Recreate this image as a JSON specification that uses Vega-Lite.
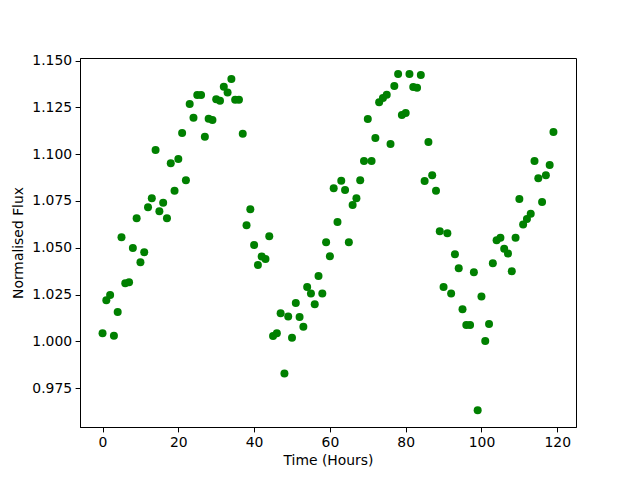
{
  "$schema": "https://vega.github.io/schema/vega-lite/v6.json",
  "width": 496,
  "height": 369,
  "autosize": {"type": "none"},
  "padding": {"left": 80, "top": 58, "right": 64, "bottom": 53},
  "background": "white",
  "config": {
    "view": {"stroke": "black", "strokeWidth": 1},
    "font": "DejaVu Sans",
    "axis": {
      "grid": false,
      "domainColor": "black",
      "domainWidth": 1,
      "tickColor": "black",
      "tickSize": 4.9,
      "tickWidth": 1,
      "labelColor": "black",
      "labelFont": "DejaVu Sans",
      "labelFontSize": 13.9,
      "labelPadding": 3.5,
      "titleFont": "DejaVu Sans",
      "titleFontSize": 13.9,
      "titleFontWeight": "normal",
      "titleColor": "black"
    }
  },
  "data": {
    "values": [
      {"time": 0, "flux": 1.0043}, {"time": 1, "flux": 1.0219}, {"time": 2, "flux": 1.0248}, {"time": 3, "flux": 1.0030},
      {"time": 4, "flux": 1.0157}, {"time": 5, "flux": 1.0556}, {"time": 6, "flux": 1.0310}, {"time": 7, "flux": 1.0315},
      {"time": 8, "flux": 1.0499}, {"time": 9, "flux": 1.0658}, {"time": 10, "flux": 1.0422}, {"time": 11, "flux": 1.0476},
      {"time": 12, "flux": 1.0717}, {"time": 13, "flux": 1.0765}, {"time": 14, "flux": 1.1022}, {"time": 15, "flux": 1.0695},
      {"time": 16, "flux": 1.0740}, {"time": 17, "flux": 1.0658}, {"time": 18, "flux": 1.0952}, {"time": 19, "flux": 1.0804},
      {"time": 20, "flux": 1.0974}, {"time": 21, "flux": 1.1113}, {"time": 22, "flux": 1.0861}, {"time": 23, "flux": 1.1268},
      {"time": 24, "flux": 1.1195}, {"time": 25, "flux": 1.1316}, {"time": 26, "flux": 1.1316}, {"time": 27, "flux": 1.1093},
      {"time": 28, "flux": 1.1189}, {"time": 29, "flux": 1.1182}, {"time": 30, "flux": 1.1293}, {"time": 31, "flux": 1.1286},
      {"time": 32, "flux": 1.1361}, {"time": 33, "flux": 1.1329}, {"time": 34, "flux": 1.1402}, {"time": 35, "flux": 1.1291},
      {"time": 36, "flux": 1.1291}, {"time": 37, "flux": 1.1109}, {"time": 38, "flux": 1.0620}, {"time": 39, "flux": 1.0706},
      {"time": 40, "flux": 1.0514}, {"time": 41, "flux": 1.0408}, {"time": 42, "flux": 1.0453}, {"time": 43, "flux": 1.0440},
      {"time": 44, "flux": 1.0562}, {"time": 45, "flux": 1.0028}, {"time": 46, "flux": 1.0043}, {"time": 47, "flux": 1.0150},
      {"time": 48, "flux": 0.9828}, {"time": 49, "flux": 1.0133}, {"time": 50, "flux": 1.0019}, {"time": 51, "flux": 1.0205},
      {"time": 52, "flux": 1.0130}, {"time": 53, "flux": 1.0078}, {"time": 54, "flux": 1.0290}, {"time": 55, "flux": 1.0256},
      {"time": 56, "flux": 1.0198}, {"time": 57, "flux": 1.0349}, {"time": 58, "flux": 1.0256}, {"time": 59, "flux": 1.0529},
      {"time": 60, "flux": 1.0455}, {"time": 61, "flux": 1.0818}, {"time": 62, "flux": 1.0637}, {"time": 63, "flux": 1.0858},
      {"time": 64, "flux": 1.0808}, {"time": 65, "flux": 1.0529}, {"time": 66, "flux": 1.0729}, {"time": 67, "flux": 1.0765},
      {"time": 68, "flux": 1.0861}, {"time": 69, "flux": 1.0963}, {"time": 70, "flux": 1.1188}, {"time": 71, "flux": 1.0963},
      {"time": 72, "flux": 1.1086}, {"time": 73, "flux": 1.1277}, {"time": 74, "flux": 1.1300}, {"time": 75, "flux": 1.1318},
      {"time": 76, "flux": 1.1054}, {"time": 77, "flux": 1.1364}, {"time": 78, "flux": 1.1429}, {"time": 79, "flux": 1.1209},
      {"time": 80, "flux": 1.1220}, {"time": 81, "flux": 1.1429}, {"time": 82, "flux": 1.1359}, {"time": 83, "flux": 1.1355},
      {"time": 84, "flux": 1.1423}, {"time": 85, "flux": 1.0856}, {"time": 86, "flux": 1.1065}, {"time": 87, "flux": 1.0888},
      {"time": 88, "flux": 1.0804}, {"time": 89, "flux": 1.0588}, {"time": 90, "flux": 1.0290}, {"time": 91, "flux": 1.0577},
      {"time": 92, "flux": 1.0256}, {"time": 93, "flux": 1.0465}, {"time": 94, "flux": 1.0390}, {"time": 95, "flux": 1.0171},
      {"time": 96, "flux": 1.0087}, {"time": 97, "flux": 1.0087}, {"time": 98, "flux": 1.0369}, {"time": 99, "flux": 0.9632},
      {"time": 100, "flux": 1.0240}, {"time": 101, "flux": 1.0001}, {"time": 102, "flux": 1.0092}, {"time": 103, "flux": 1.0417},
      {"time": 104, "flux": 1.0540}, {"time": 105, "flux": 1.0553}, {"time": 106, "flux": 1.0494}, {"time": 107, "flux": 1.0469},
      {"time": 108, "flux": 1.0374}, {"time": 109, "flux": 1.0553}, {"time": 110, "flux": 1.0761}, {"time": 111, "flux": 1.0624},
      {"time": 112, "flux": 1.0654}, {"time": 113, "flux": 1.0681}, {"time": 114, "flux": 1.0963}, {"time": 115, "flux": 1.0872},
      {"time": 116, "flux": 1.0745}, {"time": 117, "flux": 1.0888}, {"time": 118, "flux": 1.0942}, {"time": 119, "flux": 1.1118}
    ]
  },
  "mark": {"type": "point", "filled": true, "opacity": 1, "color": "#008000", "size": 64},
  "encoding": {
    "x": {
      "field": "time",
      "type": "quantitative",
      "title": "Time (Hours)",
      "scale": {"domain": [-5.95, 124.95], "nice": false, "zero": false},
      "axis": {"values": [0, 20, 40, 60, 80, 100, 120], "titlePadding": 4}
    },
    "y": {
      "field": "flux",
      "type": "quantitative",
      "title": "Normalised Flux",
      "scale": {"domain": [0.9542, 1.1514], "nice": false, "zero": false},
      "axis": {"values": [0.975, 1.0, 1.025, 1.05, 1.075, 1.1, 1.125, 1.15], "format": ".3f", "titlePadding": 6}
    }
  }
}
